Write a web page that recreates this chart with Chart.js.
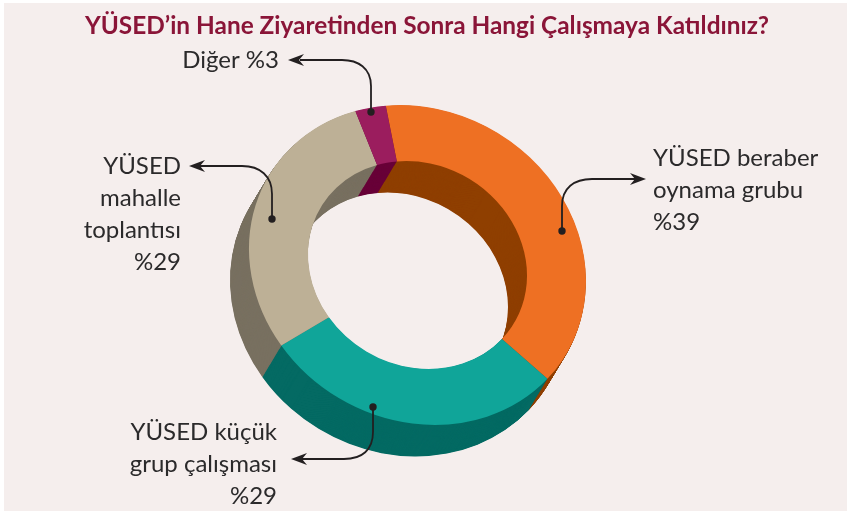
<!DOCTYPE html>
<html lang="tr">
<head>
<meta charset="utf-8">
<title>YÜSED</title>
<script src="https://cdn.jsdelivr.net/npm/chart.js@4"></script>
<style>
  html, body { margin: 0; background: #fff; }
  #panel { position: absolute; left: 4px; top: 3px; width: 843px; height: 508px; background: #f5eeed; }
  canvas { position: absolute; left: 0; top: 0; }
</style>
</head>
<body>
<div id="panel"></div>
<canvas id="chart" width="848" height="513"></canvas>
<script>
const titleText = "YÜSED’in Hane Ziyaretinden Sonra Hangi Çalışmaya Katıldınız?";
const categories = ["YÜSED beraber oynama grubu", "YÜSED küçük grup çalışması", "YÜSED mahalle toplantısı", "Diğer"];
const values = [39, 29, 29, 3];
const topColors = ["#ee7023", "#10a599", "#bdb096", "#9b1d5e"];
const wallColors = ["#8f3f00", "#046a63", "#787060", "#680038"];

// callouts around the ring
const callouts = [
  { lines: ["Diğer %3"], align: "right", x: 279, y: 68, dot: [371, 112],
    path: [[371, 86], [371, 68, 358, 60, 342, 60], [300, 60]], tip: [288, 60], dir: -1 },
  { lines: ["YÜSED", "mahalle", "toplantısı", "%29"], align: "right", x: 181, y: 174, dot: [272, 219],
    path: [[272, 194], [272, 176, 260, 166, 242, 166], [200, 166]], tip: [189, 166], dir: -1 },
  { lines: ["YÜSED beraber", "oynama grubu", "%39"], align: "left", x: 653, y: 166, dot: [562, 231],
    path: [[562, 206], [562, 188, 574, 179, 592, 179], [635, 179]], tip: [646, 179], dir: 1 },
  { lines: ["YÜSED küçük", "grup çalışması", "%29"], align: "right", x: 277, y: 440, dot: [373, 407],
    path: [[373, 432], [373, 450, 362, 459, 344, 459], [302, 459]], tip: [291, 459], dir: -1 }
];

const depthX = -19;
const depthY = 31.5;

// the ring in the picture is a slightly tilted ellipse, not a circle
function tiltRing(ctx, cx, cy) {
  ctx.translate(cx, cy);
  ctx.transform(0.9988, 0.0497, 0.0497, 0.9478, 0, 0);
  ctx.translate(-cx, -cy);
}

// draws darker copies of the arcs under the ring, then keeps the tilt for the real ones
const ringPlugin = {
  id: "ring",
  beforeDatasetsDraw(chart) {
    const ctx = chart.ctx;
    const arcs = chart.getDatasetMeta(0).data;
    const cx = arcs[0].x;
    const cy = arcs[0].y;
    const steps = 64;
    for (let s = steps; s > 0; s--) {
      ctx.save();
      ctx.translate(depthX * s / steps, depthY * s / steps);
      tiltRing(ctx, cx, cy);
      arcs.forEach((arc, i) => {
        ctx.fillStyle = wallColors[i];
        ctx.beginPath();
        ctx.arc(arc.x, arc.y, arc.outerRadius, arc.startAngle, arc.endAngle);
        ctx.arc(arc.x, arc.y, arc.innerRadius, arc.endAngle, arc.startAngle, true);
        ctx.closePath();
        ctx.fill();
      });
      ctx.restore();
    }
    ctx.save();
    tiltRing(ctx, cx, cy);
  },
  afterDatasetsDraw(chart) {
    chart.ctx.restore();
  }
};

const labelPlugin = {
  id: "labels",
  afterDraw(chart) {
    const ctx = chart.ctx;
    ctx.save();
    ctx.textBaseline = "alphabetic";
    ctx.fillStyle = "#8a1538";
    ctx.font = "bold 24.4px Lato";
    ctx.textAlign = "center";
    ctx.fillText(titleText, 427, 34);

    ctx.font = "24px Lato";
    callouts.forEach((c) => {
      ctx.fillStyle = "#2b2a2b";
      ctx.textAlign = c.align;
      c.lines.forEach((line, i) => ctx.fillText(line, c.x, c.y + i * 32));

      ctx.strokeStyle = "#231f20";
      ctx.lineWidth = 1.8;
      ctx.beginPath();
      ctx.moveTo(c.dot[0], c.dot[1]);
      c.path.forEach((p) => {
        if (p.length === 2) ctx.lineTo(p[0], p[1]);
        else ctx.bezierCurveTo(p[0], p[1], p[2], p[3], p[4], p[5]);
      });
      ctx.stroke();

      ctx.fillStyle = "#231f20";
      ctx.beginPath();
      ctx.arc(c.dot[0], c.dot[1], 3.7, 0, Math.PI * 2);
      ctx.fill();

      const [tx, ty] = c.tip;
      ctx.beginPath();
      ctx.moveTo(tx, ty);
      ctx.lineTo(tx - c.dir * 16, ty - 6);
      ctx.lineTo(tx - c.dir * 11, ty);
      ctx.lineTo(tx - c.dir * 16, ty + 6);
      ctx.closePath();
      ctx.fill();
    });
    ctx.restore();
  }
};

new Chart(document.getElementById("chart"), {
  type: "doughnut",
  data: {
    labels: categories,
    datasets: [{ data: values, backgroundColor: topColors, borderWidth: 0 }]
  },
  options: {
    responsive: false,
    animation: false,
    rotation: -8,
    cutout: "65%",
    layout: { padding: { left: 249, right: 262, top: 96.5, bottom: 79.5 } },
    plugins: { legend: { display: false }, tooltip: { enabled: false } }
  },
  plugins: [ringPlugin, labelPlugin]
});
</script>
</body>
</html>
